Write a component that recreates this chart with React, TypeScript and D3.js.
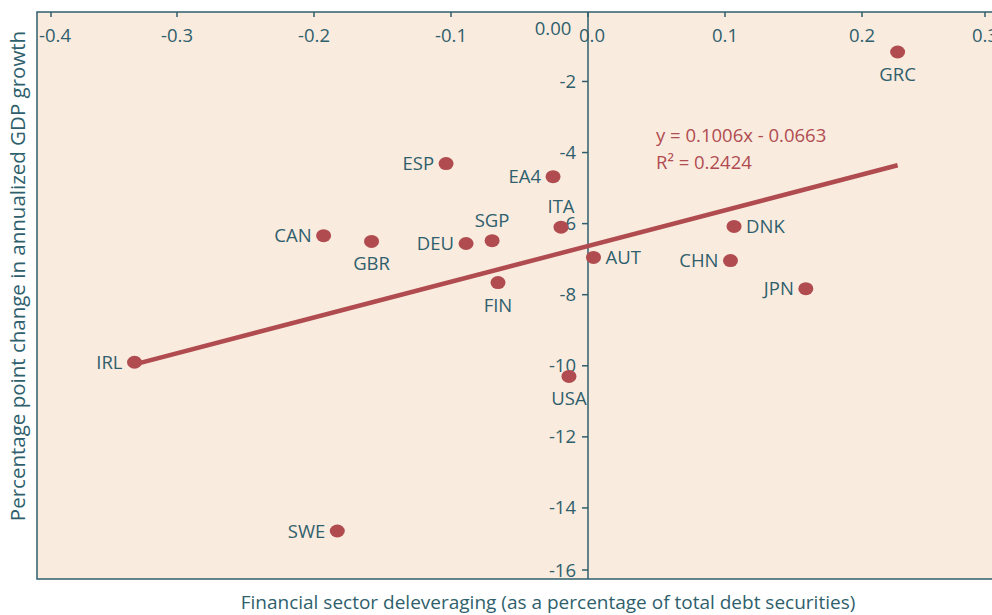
import React from "react";
import * as d3 from "d3";

const countries = ["GRC", "ESP", "EA4", "ITA", "CAN", "GBR", "DEU", "SGP", "FIN", "AUT", "DNK", "CHN", "JPN", "IRL", "USA", "SWE"];
const xValues = [0.226, -0.1036, -0.0255, -0.0197, -0.193, -0.158, -0.089, -0.070, -0.0657, 0.004, 0.1066, 0.104, 0.159, -0.331, -0.0139, -0.183];
const yValues = [-1.17, -4.31, -4.68, -6.1, -6.34, -6.5, -6.56, -6.48, -7.66, -6.95, -6.08, -7.04, -7.83, -9.9, -10.3, -14.65];
const labelSide = ["below", "left", "left", "above", "left", "below", "left", "above", "below", "right", "right", "left", "left", "left", "below", "left"];
const xTicks = [-0.4, -0.3, -0.2, -0.1, 0, 0.1, 0.2, 0.3];
const yTicks = [-2, -4, -6, -8, -10, -12, -14, -16];
const trendSlope = 10.06;
const trendIntercept = -6.63;
const equationLines = ["y = 0.1006x - 0.0663", "R² = 0.2424"];

const W = 992, H = 615;
const TEAL = "#2f5f6c";
const RED = "#b04c50";
const BG = "#faebdf";
const FONT = "'Open Sans', 'Noto Sans', sans-serif";
const FS = 18.5;

export default function App() {
  const x = d3.scaleLinear().domain([-0.4, 0.3]).range([40, 999]);
  const y = d3.scaleLinear().domain([-16, 0]).range([579, 10.4]);
  const frameLeft = 37, frameTop = 12, frameBottom = 579;
  const x0 = x(0);
  const fmtX = (v: number) => (v === 0 ? "0.0" : d3.format(".1f")(v).replace("\u2212", "-"));
  const xs = d3.extent(xValues) as [number, number];
  const line = d3.line<number>().x((d) => x(d)).y((d) => y(trendSlope * d + trendIntercept));
  // end ticks are drawn slightly inside the frame, as in the source
  const tickX = (t: number) => x(t) + (t === -0.4 ? 11 : t === 0.3 ? -14 : 0);

  return (
    <svg width={W} height={H} style={{ position: "absolute", left: 0, top: 0 }} fontFamily={FONT}>
      <rect x={frameLeft} y={frameTop} width={W} height={frameBottom - frameTop} fill={BG} stroke={TEAL} strokeWidth={1.5} />
      {xTicks.map((t) => (
        <g key={t}>
          <line x1={tickX(t)} x2={tickX(t)} y1={frameTop} y2={frameTop + 5} stroke={TEAL} strokeWidth={1.5} />
          <text x={tickX(t) + (t === -0.4 ? 4 : t === 0 ? 4 : 0)} y={42} textAnchor="middle" fontSize={FS} fill={TEAL}>{fmtX(t)}</text>
        </g>
      ))}
      <text x={553} y={35} textAnchor="middle" fontSize={FS} fill={TEAL}>0.00</text>
      <line x1={x0} x2={x0} y1={frameTop} y2={frameBottom} stroke={TEAL} strokeWidth={1.5} />
      {yTicks.map((t) => {
        const yy = t === -16 ? 570 : y(t);
        return (
          <g key={t}>
            <line x1={x0 - 6} x2={x0} y1={yy} y2={yy} stroke={TEAL} strokeWidth={1.5} />
            <text x={x0 - 12} y={yy + 6.5} textAnchor="end" fontSize={FS} fill={TEAL}>{t}</text>
          </g>
        );
      })}
      <path d={line([xs[0], xs[1]]) || ""} stroke={RED} strokeWidth={4.5} fill="none" />
      {countries.map((c, i) => {
        const px = x(xValues[i]), py = y(yValues[i]);
        const side = labelSide[i];
        let lx = px, ly = py + 6.5, anchor: "start" | "middle" | "end" = "middle";
        if (side === "left") { lx = px - 12; anchor = "end"; }
        else if (side === "right") { lx = px + 12; anchor = "start"; }
        else if (side === "below") { ly = py + 29; }
        else if (side === "above") { ly = py - 14; }
        return (
          <g key={c}>
            <ellipse cx={px} cy={py} rx={7.5} ry={6.5} fill={RED} />
            <text x={lx} y={ly} textAnchor={anchor} fontSize={FS} fill={TEAL}>{c}</text>
          </g>
        );
      })}
      {equationLines.map((s, i) => (
        <text key={i} x={656} y={142 + i * 27} fontSize={FS} fill={RED}>{s}</text>
      ))}
      <text x={548} y={609} textAnchor="middle" fontSize={19} fill={TEAL}>Financial sector deleveraging (as a percentage of total debt securities)</text>
      <text transform={`translate(25,276) rotate(-90)`} textAnchor="middle" fontSize={20.5} fill={TEAL}>Percentage point change in annualized GDP growth</text>
    </svg>
  );
}
